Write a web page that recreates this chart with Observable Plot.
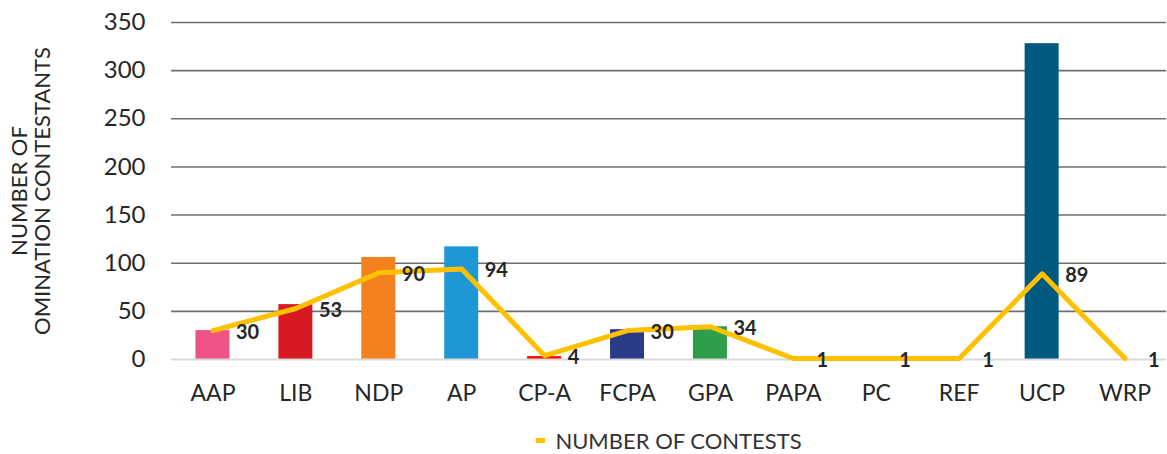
<!DOCTYPE html>
<html>
<head>
<meta charset="utf-8">
<script src="https://cdn.jsdelivr.net/npm/d3@7"></script>
<script src="https://cdn.jsdelivr.net/npm/@observablehq/plot@0.6"></script>
<style>
  body { margin: 0; background: #fff; font-family: Lato, "Open Sans", sans-serif; }
  #chart { width: 1167px; }
  #chart svg { display: block; }
  #leg { width: 1167px; height: 34px; display: flex; justify-content: center; align-items: center; font-size: 22px; color: #333; font-family: Lato, sans-serif; margin-top: 6px; padding-left: 171px; box-sizing: border-box; }
  #leg .sw { display: inline-block; width: 9px; height: 5px; background: #FFC000; margin-right: 10px; }
</style>
</head>
<body>
<div id="chart"></div>
<div id="leg"><span class="sw"></span><span>NUMBER OF CONTESTS</span></div>
<script>
const parties = ["AAP","LIB","NDP","AP","CP-A","FCPA","GPA","PAPA","PC","REF","UCP","WRP"];
const contestants = [30, 57, 106, 117, 3, 31, 34, 0, 0, 0, 328, 0];
const contests = [30, 53, 90, 94, 4, 30, 34, 1, 1, 1, 89, 1];
const barColors = ["#EF5285","#D71A21","#F38120","#1F97D4","#FF0000","#2B3A87","#2E9E4A","#A6A6A6","#1F4E9C","#6AA84F","#005A80","#4B8BBE"];
const yTicks = [0, 50, 100, 150, 200, 250, 300, 350];

const data = parties.map((p, i) => ({party: p, contestants: contestants[i], contests: contests[i], color: barColors[i]}));

const plot = Plot.plot({
  width: 1167,
  height: 417,
  marginTop: 22,
  marginBottom: 58,
  marginLeft: 171,
  marginRight: 1,
  style: {fontFamily: "Lato, 'Open Sans', sans-serif", color: "#222", background: "#fff"},
  x: {domain: parties, paddingInner: 0.59, paddingOuter: 0.295, round: false, label: null, axis: null},
  y: {domain: [0, 350], label: null, axis: null},
  marks: [
    Plot.gridY(yTicks.filter(d => d > 0), {stroke: "#6f6f6f", strokeOpacity: 1, strokeWidth: 1.6}),
    Plot.axisY(yTicks, {tickSize: 0, tickPadding: 26, fontSize: 24, fill: "#262626", label: null}),
    Plot.axisX(parties, {tickSize: 0, tickPadding: 25, fontSize: 23, fill: "#262626", label: null}),
    Plot.barY(data, {x: "party", y: "contestants", fill: d => d.color}),
    Plot.ruleY([0], {stroke: "#d9d9d9", strokeWidth: 2}),
    Plot.line(data, {x: "party", y: "contests", stroke: "#FFC000", strokeWidth: 5, strokeLinejoin: "round", strokeLinecap: "round"}),
    Plot.text(data, {x: "party", y: "contests", text: d => String(d.contests), dx: 23, dy: 2, textAnchor: "start", fontWeight: "bold", fontSize: 20, fill: "#262626"}),
    Plot.text(["NUMBER OF\nOMINATION CONTESTANTS"], {frameAnchor: "left", dx: -140, rotate: -90, textAnchor: "middle", text: d => d, fontSize: 22, fill: "#262626", lineHeight: 1.05})
  ]
});
document.getElementById("chart").appendChild(plot);
</script>
</body>
</html>
